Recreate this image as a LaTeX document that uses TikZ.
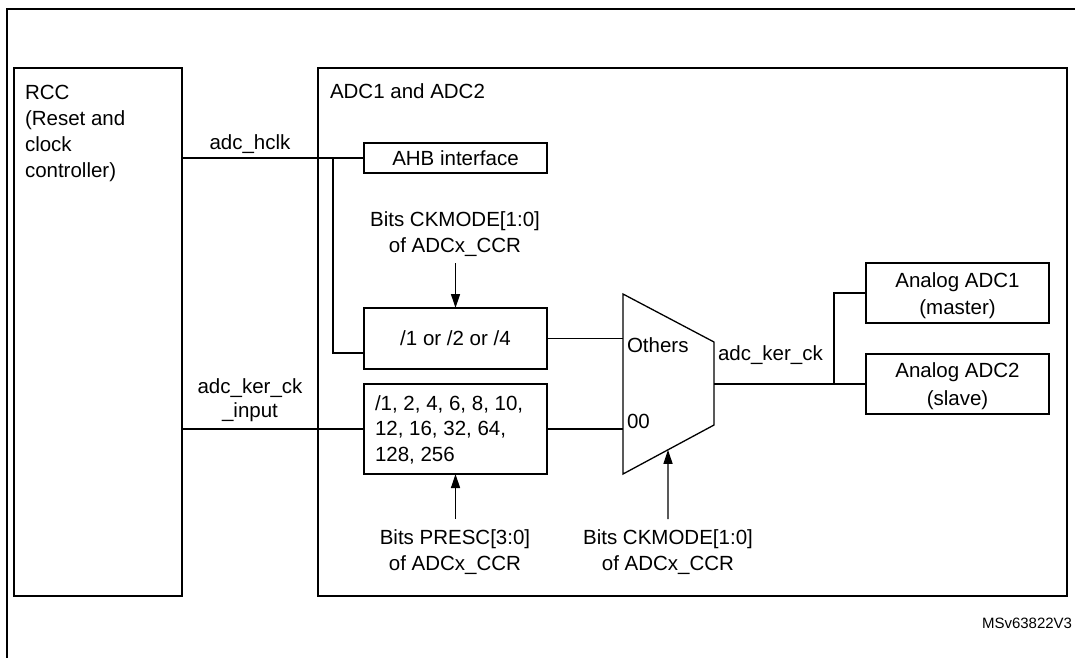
\documentclass[tikz,border=0pt]{standalone}
\usepackage{fontspec}
\setmainfont{Liberation Sans}
\usetikzlibrary{arrows.meta,calc}
\begin{document}
\begin{tikzpicture}[x=1pt,y=-1pt,
  bigbox/.style={draw, line width=2.4pt, inner sep=0pt, outer sep=0pt, anchor=north west},
  blk/.style={draw, line width=1.3pt, inner sep=0pt, outer sep=0pt, anchor=north west, font=\fontsize{20.5}{26}\selectfont},
  wire/.style={line width=1.3pt},
  ctl/.style={line width=1.3pt, -{Triangle[length=14pt,width=9pt]}},
  txt/.style={font=\fontsize{20.5}{26}\selectfont, inner sep=0pt, outer sep=0pt},
]
\useasboundingbox (0,0) rectangle (1075,657);
% outer frame
\coordinate (fbl) at (7,660);
\coordinate (ftl) at (7,9);
\coordinate (ftr) at (1080,9);
\draw[line width=2pt] (fbl) -- (ftl) -- (ftr);

% RCC (multi-line nodes: base = last line's baseline)
\node[bigbox, minimum width=168pt, minimum height=528pt] (rcc) at (14,68) {};
\node[txt, anchor=base west, align=left] (rcct) at (25,177) {RCC\\(Reset and\\clock\\controller)};

% ADC container
\node[bigbox, minimum width=749pt, minimum height=528pt] (adc) at (318,68) {};
\node[txt, anchor=base west] (adct) at (330,98) {ADC1 and ADC2};

% inner blocks
\node[blk, minimum width=183pt, minimum height=30pt] (ahb) at (364,143) {AHB interface};
\node[blk, minimum width=183pt, minimum height=61pt] (div) at (364,308) {/1 or /2 or /4};
\node[blk, minimum width=183pt, minimum height=90pt] (pre) at (364,384) {};
\node[txt, anchor=base west, align=left, font=\fontsize{20.5}{25.5}\selectfont] (pret) at (375,461) {/1, 2, 4, 6, 8, 10,\\12, 16, 32, 64,\\128, 256};
\node[blk, minimum width=183pt, minimum height=60pt] (an1) at (866,263) {};
\node[txt, anchor=base, align=center, font=\fontsize{20.5}{27.5}\selectfont] (an1t) at (957.5,314.5) {Analog ADC1\\(master)};
\node[blk, minimum width=183pt, minimum height=60pt] (an2) at (866,354) {};
\node[txt, anchor=base, align=center, font=\fontsize{20.5}{27.5}\selectfont] (an2t) at (957.5,405) {Analog ADC2\\(slave)};

% mux
\coordinate (mtl) at (623,294);
\coordinate (mbl) at (623,474);
\coordinate (mbr) at (714,425);
\coordinate (mtr) at (714,342);
\draw[line width=1.3pt] (mtl) -- (mtr) -- (mbr) -- (mbl) -- cycle;
\coordinate (mO) at (623,338.5);
\coordinate (m00) at (623,429);
\coordinate (mout) at (714,384);
\node[txt, anchor=base west] (othl) at (627,352) {Others};
\node[txt, anchor=base west] (zzl) at (627,428) {00};

% wires
\draw[wire] (rcc.east |- ahb.west) -- (ahb.west);
\coordinate (br) at (333,158);
\coordinate (divin) at (364,353);
\draw[wire] (br) |- (divin);
\draw[wire] (rcc.east |- pre.west) -- (pre.west);
\draw[wire] (div.east) -- (mO);
\draw[wire] (pre.east) -- (m00);
\draw[wire] (mout) -- (an2.west);
\coordinate (jn) at (834,384);
\draw[wire] (jn) |- (an1.west);

% wire labels
\node[txt, anchor=base] (hclkl) at (250,149) {adc\_hclk};
\node[txt, anchor=base, align=center, font=\fontsize{20.5}{24}\selectfont] (kerinl) at (250,417) {adc\_ker\_ck\\\_input};
\node[txt, anchor=base west] (kerl) at (718,360) {adc\_ker\_ck};

% control inputs
\node[txt, anchor=base, align=center] (ck1) at (455,252) {Bits CKMODE[1:0]\\of ADCx\_CCR};
\coordinate (ck1a) at (455.5,263);
\draw[ctl] (ck1a) -- (div.north);
\node[txt, anchor=base, align=center] (prl) at (455,570) {Bits PRESC[3:0]\\of ADCx\_CCR};
\coordinate (pra) at (455.5,519);
\draw[ctl] (pra) -- (pre.south);
\node[txt, anchor=base, align=center] (ck2) at (668,570) {Bits CKMODE[1:0]\\of ADCx\_CCR};
\coordinate (ck2a) at (668,519);
\coordinate (mbot) at ($(mbl)!45/91!(mbr)$);
\draw[ctl] (ck2a) -- (mbot);

% reference code
\node[txt, anchor=base west, font=\fontsize{15}{18}\selectfont] (code) at (982,628) {MSv63822V3};
\end{tikzpicture}
\end{document}
